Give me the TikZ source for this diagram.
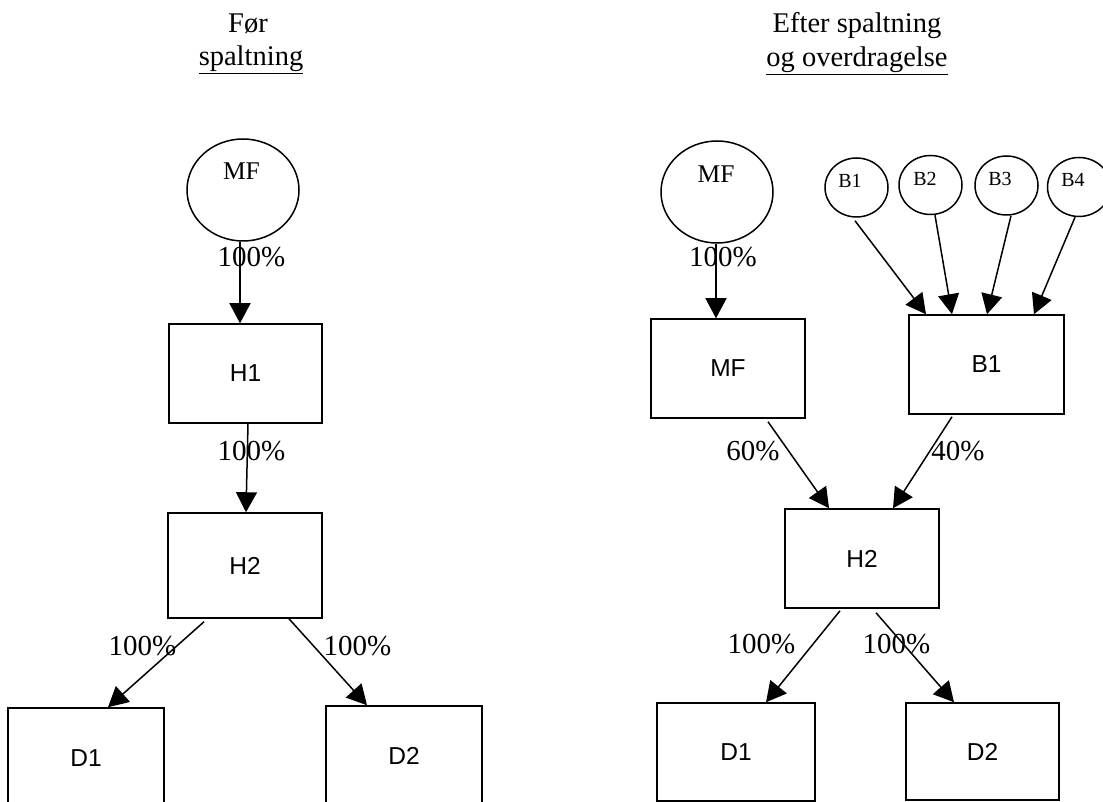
\documentclass[tikz,border=0pt]{standalone}
\usepackage{fontspec}
\setmainfont{Liberation Serif}
\newfontfamily\arialfont{Liberation Sans}
\usetikzlibrary{arrows.meta,shapes.geometric}
\begin{document}
\begin{tikzpicture}[x=1pt,y=-1pt,
  box/.style={draw,line width=1.5pt,rectangle,inner sep=0pt,font=\arialfont\fontsize{24.5}{28}\selectfont},
  bigc/.style={draw,line width=1.5pt,ellipse,inner sep=0pt,minimum width=112pt,minimum height=102pt},
  smallc/.style={draw,line width=1.5pt,ellipse,inner sep=0pt,minimum width=63pt,minimum height=59pt},
  ctext/.style={anchor=base,inner sep=0pt,font=\fontsize{25.5}{30}\selectfont},
  btext/.style={anchor=base,inner sep=0pt,font=\fontsize{20}{24}\selectfont},
  pct/.style={anchor=base,inner sep=0pt,font=\fontsize{29}{33}\selectfont},
  ttl/.style={anchor=base,inner sep=0pt,font=\fontsize{28.5}{33}\selectfont},
  arr/.style={-{Triangle[length=20pt,width=21pt]},line width=1.5pt}
]
\clip (0,0) rectangle (1103,802);
\fill[white] (0,0) rectangle (1103,802);

% ---------- titles ----------
\node[ttl] (t1a) at (248,33) {Før};
\node[ttl] (t1b) at (251,66) {\underline{spaltning}};
\node[ttl] (t2a) at (857,33) {Efter spaltning};
\node[ttl] (t2b) at (857,67) {\underline{og overdragelse}};

% ---------- left: before ----------
\node[bigc] (mfL) at (243,190) {};
\node[ctext] (mfLt) at ([xshift=-1.5pt,yshift=10pt]mfL.center) {MF};
\node[box,minimum width=153pt,minimum height=99pt] (h1L) at (245.5,373.5) {H1};
\node[box,minimum width=154pt,minimum height=105pt] (h2L) at (245,565.5) {H2};
\node[box,minimum width=156pt,minimum height=100pt] (d1L) at (86,758) {D1};
\node[box,minimum width=156pt,minimum height=100pt] (d2L) at (404,756) {D2};

\node[pct] (pL1) at (251.5,267) {100\%};
\node[pct] (pL2) at (251.5,460) {100\%};
\node[pct] (pL3) at (142.5,655) {100\%};
\node[pct] (pL4) at (357.5,655) {100\%};

\draw[arr] ([xshift=-3pt]mfL.south) -- ([xshift=-5.5pt]h1L.north);
\draw[arr] ([xshift=2.5pt]h1L.south) -- ([xshift=1pt]h2L.north);
\draw[arr] ([xshift=-41pt,yshift=-3pt]h2L.south) -- ([xshift=22pt]d1L.north);
\draw[arr] ([xshift=44pt]h2L.south) -- ([xshift=-37pt]d2L.north);

% ---------- right: after ----------
\node[bigc] (mfR) at (717,192) {};
\node[ctext] (mfRt) at ([xshift=-1pt,yshift=9pt]mfR.center) {MF};
\node[smallc] (bc1) at (856.5,187.5) {};
\node[smallc] (bc2) at (930.5,185) {};
\node[smallc] (bc3) at (1006.5,185.5) {};
\node[smallc] (bc4) at (1079,187) {};
\node[btext] (bt1) at ([xshift=-6.5pt,yshift=-0.5pt]bc1.center) {B1};
\node[btext] (bt2) at ([xshift=-5.5pt,yshift=-1pt]bc2.center) {B2};
\node[btext] (bt3) at ([xshift=-6.5pt,yshift=-0.5pt]bc3.center) {B3};
\node[btext] (bt4) at ([xshift=-6pt,yshift=0pt]bc4.center) {B4};

\node[box,minimum width=154pt,minimum height=99pt] (mfB) at (728,368.5) {MF};
\node[box,minimum width=155pt,minimum height=99pt] (b1B) at (986.5,364.5) {B1};
\node[box,minimum width=154pt,minimum height=99pt] (h2R) at (862,558.5) {H2};
\node[box,minimum width=158pt,minimum height=98pt] (d1R) at (736,752) {D1};
\node[box,minimum width=153pt,minimum height=97pt] (d2R) at (982.5,751.5) {D2};

\node[pct] (pR1) at (723,267) {100\%};
\node[pct] (pR2) at (753,460) {60\%};
\node[pct] (pR3) at (958,460) {40\%};
\node[pct] (pR4) at (761.5,653) {100\%};
\node[pct] (pR5) at (896.5,653) {100\%};

\draw[arr] ([xshift=-1pt]mfR.south) -- ([xshift=-12pt]mfB.north);
\draw[arr] ([xshift=-1.5pt,yshift=-3pt]bc1.south) -- ([xshift=-60.5pt]b1B.north);
\draw[arr] ([xshift=4.5pt]bc2.south) -- ([xshift=-34.5pt]b1B.north);
\draw[arr] ([xshift=4.5pt]bc3.south) -- ([xshift=0.5pt]b1B.north);
\draw[arr] ([xshift=-4pt]bc4.south) -- ([xshift=47.5pt]b1B.north);
\draw[arr] ([xshift=40pt,yshift=-3pt]mfB.south) -- ([xshift=-33pt]h2R.north);
\draw[arr] ([xshift=-34.5pt,yshift=-2pt]b1B.south) -- ([xshift=31pt]h2R.north);
\draw[arr] ([xshift=-22pt,yshift=-2pt]h2R.south) -- ([xshift=30pt]d1R.north);
\draw[arr] ([xshift=14pt,yshift=-4pt]h2R.south) -- ([xshift=-28.5pt]d2R.north);
\end{tikzpicture}
\end{document}
